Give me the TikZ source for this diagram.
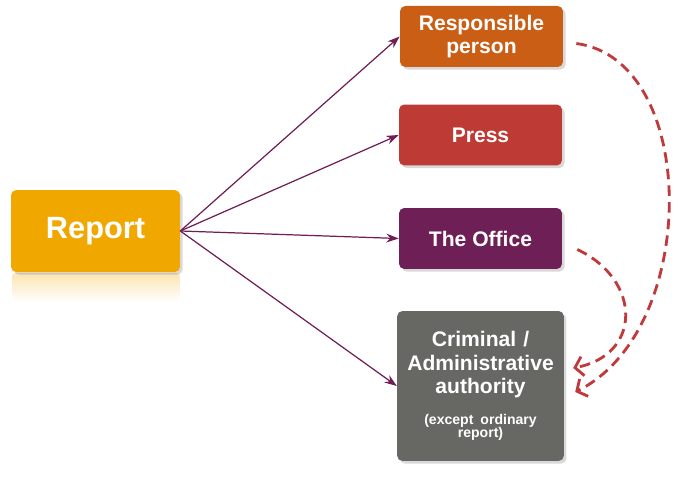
\documentclass[tikz,border=0pt]{standalone}
\usepackage{fontspec}
\setmainfont{Liberation Sans}
\usetikzlibrary{arrows.meta,shadows}
\definecolor{reportyellow}{HTML}{F0A800}
\definecolor{respbrown}{HTML}{CB5E15}
\definecolor{pressred}{HTML}{BE3A35}
\definecolor{officepurple}{HTML}{6E1F56}
\definecolor{authgrey}{HTML}{676763}
\definecolor{backred}{HTML}{C0393B}
\begin{document}
\begin{tikzpicture}[x=0.02cm, y=-0.02cm, every node/.style={font=\bfseries\fontsize{12}{13.4}\selectfont, text=white},
        box/.style={rounded corners=3pt, minimum width=3.26cm, minimum height=1.22cm, align=center,
            drop shadow={opacity=0.3, shadow xshift=1.5pt, shadow yshift=-1.5pt}},
        feed/.style={-{Stealth[length=7pt,width=5pt]}, draw=officepurple, line width=0.7pt},
        back/.style={-{Straight Barb[length=4.5pt,width=11pt]}, draw=backred, line width=1.6pt, dash pattern=on 6pt off 3.5pt}]
        \useasboundingbox (0,0) rectangle (683,482);

        \shade[top color=reportyellow!30, bottom color=white, rounded corners=2pt] (12,273) rectangle (180,302);
        \node[box, fill=reportyellow, minimum width=3.38cm, minimum height=1.64cm, font=\bfseries\fontsize{17.5}{20}\selectfont]
            (report) at (95.5,231) {Report};

        \node[box, fill=respbrown] (resp) at (481.5,36.5) {Responsible\\person};
        \node[box, fill=pressred] (press) at (480.5,135) {Press};
        \node[box, fill=officepurple] (office) at (480.5,238.5) {The Office};
        \node[box, fill=authgrey, minimum height=3cm, text width=3.1cm] (auth) at (480.5,386)
            {Criminal /\\Administrative\\authority\par\vspace{8pt}{\fontsize{8}{7.6}\selectfont (except ordinary\\report)\par}};

        \draw[feed] (report.east) -- (resp.west);
        \draw[feed] (report.east) -- (press.west);
        \draw[feed] (report.east) -- (office.west);
        \draw[feed] (report.east) -- (auth.west);

        \draw[back] ([shift={(13,7)}]resp.east) .. controls (700,60) and (700,330) .. ([shift={(11,6)}]auth.east);
        \draw[back] ([shift={(15,11)}]office.east) .. controls (642,280) and (642,355) .. ([shift={(9,-18)}]auth.east);
    \end{tikzpicture}
\end{document}
